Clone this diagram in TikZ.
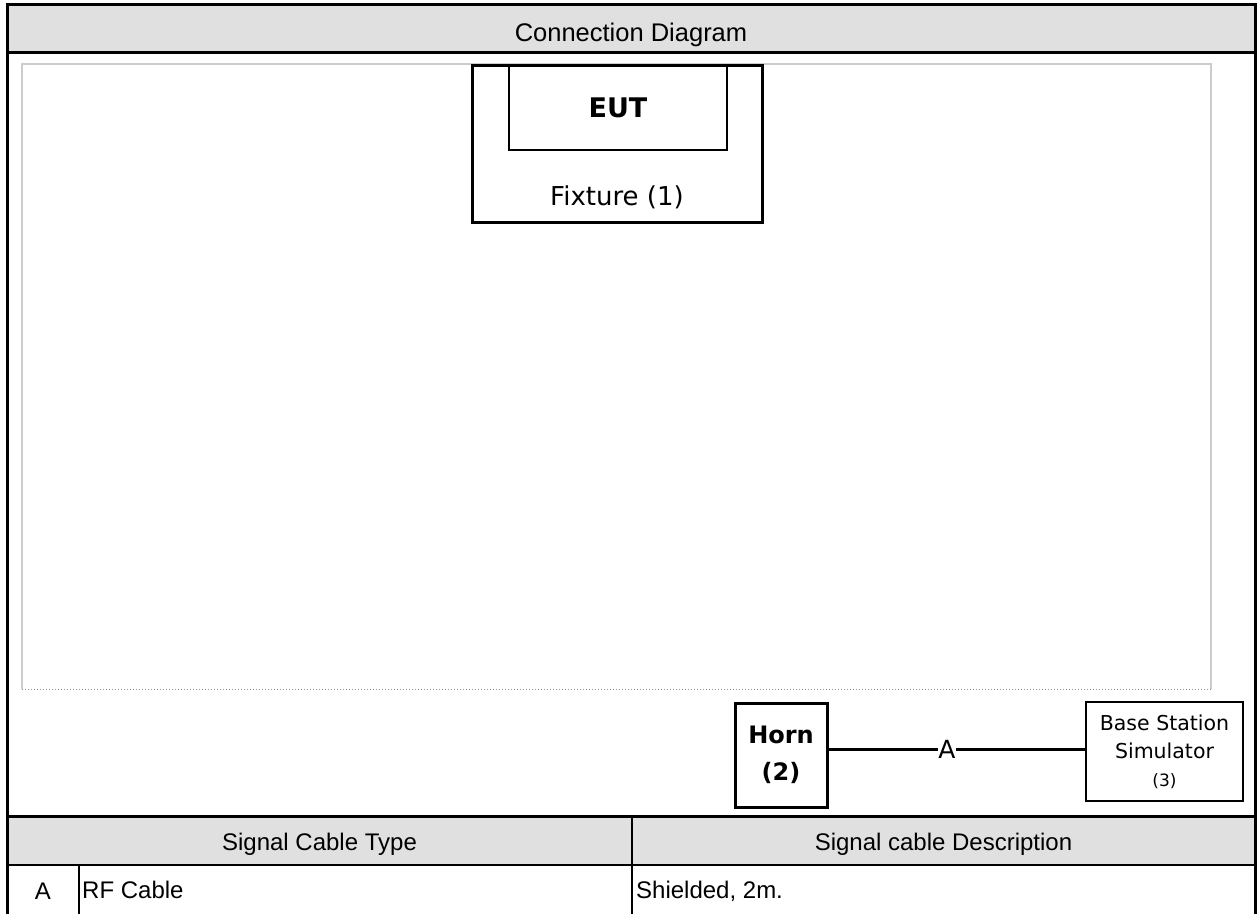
\documentclass[tikz,border=0pt]{standalone}
\usepackage{fontspec}
\setmainfont{Liberation Sans}
\newfontfamily\boxfont{DejaVu Sans}
\begin{document}
\begin{tikzpicture}[x=1pt,y=-1pt,
  frame/.style={line width=3pt},
  rule/.style={line width=2.5pt},
  unit/.style={draw,line width=3pt,rectangle,inner sep=0pt,font=\boxfont},
  cell/.style={font=\fontsize{24}{28}\selectfont,inner sep=0pt,anchor=base}]
   \useasboundingbox (0,0) rectangle (1258,914);
   % grey bands
   \fill[black!12] (7,4) rectangle (1255,52);
   \fill[black!12] (7,816) rectangle (1255,865);
   % test area
   \draw[black!20,line width=2pt] (22,689) -- (22,64) -- (1211,64) -- (1211,689);
   \draw[black!45,dotted,line width=1pt] (22,689) -- (1211,689);
   % set-up
   \node[unit,fill=white,minimum width=290pt,minimum height=157pt] (fixture) at (617,143.5) {};
   \node[unit,line width=2.5pt,minimum width=218pt,minimum height=85pt,
     font=\boxfont\bfseries\fontsize{27}{30}\selectfont] (eut) at (618,107.5) {EUT};
   \node[font=\boxfont\fontsize{26}{30}\selectfont,inner sep=0pt,anchor=base] (fixlabel) at (617,205) {Fixture (1)};
   \node[unit,minimum width=92pt,minimum height=104pt,align=center,
     font=\boxfont\bfseries\fontsize{24}{37}\selectfont] (horn) at (781,755) {Horn\\(2)};
   \node[unit,line width=2.5pt,minimum width=157pt,minimum height=99pt,align=center,
     font=\boxfont\fontsize{20.5}{28}\selectfont] (bss) at (1164.5,751.5)
     {Base Station\\Simulator\\{\fontsize{17}{28}\selectfont(3)}};
   \node[inner sep=0pt,font=\boxfont\fontsize{25}{28}\selectfont] (cableA) at (947,749) {A};
   \draw[line width=3pt] (horn.east |- cableA) -- (cableA.west);
   \draw[line width=3pt] (cableA.east) -- (bss.west |- cableA);
   % frame and table rules
   \draw[frame] (7,914) -- (7,4) -- (1255,4) -- (1255,914);
   \draw[frame] (7,52) -- (1255,52);
   \draw[frame] (7,816) -- (1255,816);
   \draw[rule] (7,865) -- (1255,865);
   \draw[rule] (632,816) -- (632,914);
   \draw[rule] (79,865) -- (79,914);
   % table texts
   \node[cell,font=\fontsize{25.5}{30}\selectfont] (title) at (631,41) {Connection Diagram};
   \node[cell] (typehead) at (319.5,850) {Signal Cable Type};
   \node[cell] (deschead) at (943.5,850) {Signal cable Description};
   \node[cell] (rowid) at (43,899) {A};
   \node[cell,anchor=base west] (rowtype) at (82,898) {RF Cable};
   \node[cell,anchor=base west] (rowdesc) at (636,898) {Shielded, 2m.};
\end{tikzpicture}
\end{document}
